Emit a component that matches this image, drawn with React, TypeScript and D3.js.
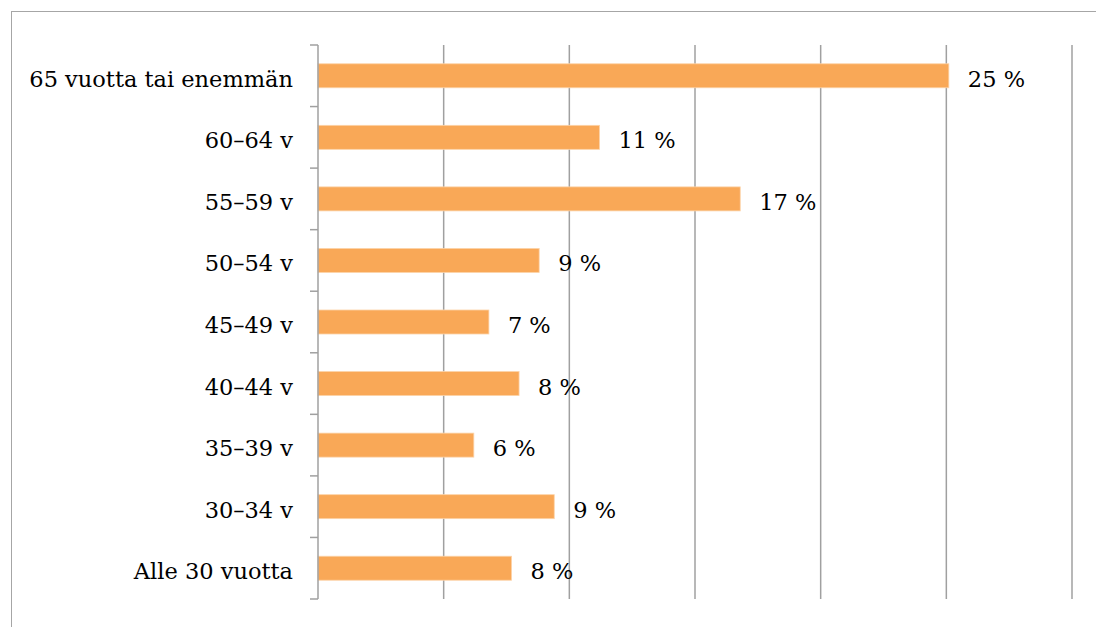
import React, { useEffect, useRef } from "react";
import * as d3 from "d3";

// age groups, top to bottom as drawn
const categories = [
  "65 vuotta tai enemmän",
  "60–64 v",
  "55–59 v",
  "50–54 v",
  "45–49 v",
  "40–44 v",
  "35–39 v",
  "30–34 v",
  "Alle 30 vuotta",
];
const values = [25.1, 11.2, 16.8, 8.8, 6.8, 8.0, 6.2, 9.4, 7.7];
const xTicks = [0, 5, 10, 15, 20, 25, 30];

const WIDTH = 1096;
const HEIGHT = 627;
const FONT = "'DejaVu Serif', serif";

export default function App() {
  const ref = useRef<SVGSVGElement>(null);

  useEffect(() => {
    const svg = d3.select(ref.current);
    svg.selectAll("*").remove();

    const xScale = d3.scaleLinear().domain([0, 30]).range([318, 1072]);
    const yScale = d3.scaleBand().domain(categories).range([45, 599]).paddingInner(0.61).paddingOuter(0.305);
    const step = yScale.step();

    // outer frame
    svg.append("rect")
      .attr("x", 11.5).attr("y", 11.5)
      .attr("width", 1200).attr("height", 800)
      .attr("fill", "none").attr("stroke", "#a6a6a6").attr("stroke-width", 1);

    // gridlines
    svg.selectAll(".grid")
      .data(xTicks.slice(1))
      .join("line")
      .attr("class", "grid")
      .attr("x1", d => xScale(d)).attr("x2", d => xScale(d))
      .attr("y1", 45).attr("y2", 599)
      .attr("stroke", "#a0a0a0").attr("stroke-width", 1.5);

    // bars
    svg.selectAll(".bar")
      .data(values)
      .join("rect")
      .attr("class", "bar")
      .attr("x", xScale(0))
      .attr("y", (d, i) => yScale(categories[i])!)
      .attr("width", d => xScale(d) - xScale(0))
      .attr("height", yScale.bandwidth())
      .attr("fill", "#f9a857")
      .attr("stroke", "#fcd3a9").attr("stroke-width", 0.8);

    // category axis
    svg.append("line")
      .attr("x1", xScale(0)).attr("x2", xScale(0))
      .attr("y1", 45).attr("y2", 599)
      .attr("stroke", "#a0a0a0").attr("stroke-width", 1.5);

    svg.selectAll(".tick")
      .data(d3.range(categories.length + 1))
      .join("line")
      .attr("class", "tick")
      .attr("x1", xScale(0) - 8).attr("x2", xScale(0))
      .attr("y1", i => 45 + i * step).attr("y2", i => 45 + i * step)
      .attr("stroke", "#a0a0a0").attr("stroke-width", 1.5);

    svg.selectAll(".cat")
      .data(categories)
      .join("text")
      .attr("class", "cat")
      .attr("x", 293)
      .attr("y", d => yScale(d)! + yScale.bandwidth() / 2 + 11)
      .attr("text-anchor", "end")
      .style("font-family", FONT)
      .style("font-size", "22.5px")
      .attr("fill", "#000")
      .text(d => d);

    // value labels
    svg.selectAll(".val")
      .data(values)
      .join("text")
      .attr("class", "val")
      .attr("x", d => xScale(d) + 19)
      .attr("y", (d, i) => yScale(categories[i])! + yScale.bandwidth() / 2 + 11)
      .style("font-family", FONT)
      .style("font-size", "22.5px")
      .attr("fill", "#000")
      .text(d => Math.round(d) + " %");
  }, []);

  return (
    <svg
      ref={ref}
      width={WIDTH}
      height={HEIGHT}
      style={{ position: "absolute", left: 0, top: 0, background: "#fff" }}
    />
  );
}
